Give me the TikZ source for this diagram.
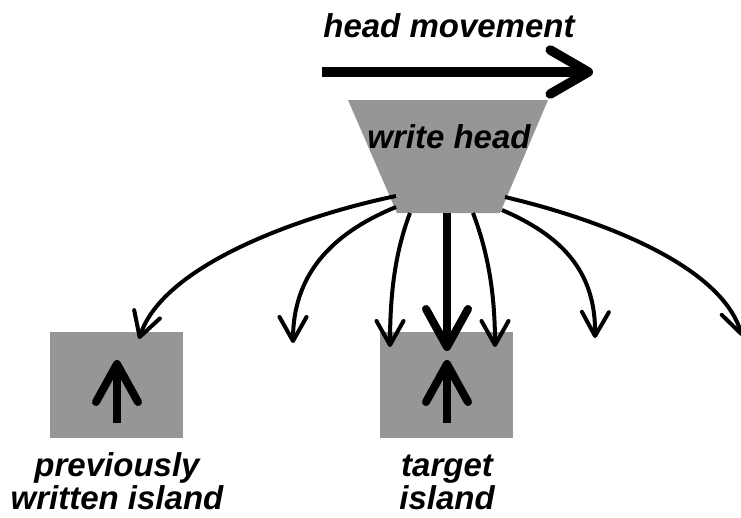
\documentclass[tikz,border=0pt]{standalone}
\usepackage{fontspec}
\setmainfont{Liberation Sans}
\usetikzlibrary{arrows.meta}
\definecolor{blockgray}{RGB}{150,150,150}
\tikzset{
  lbl/.style={font=\fontsize{33}{33}\selectfont\bfseries\itshape, inner sep=0pt, align=center},
  island/.style={fill=blockgray, minimum width=133pt, minimum height=106pt, inner sep=0pt},
  thin/.style={line width=4pt, -{Straight Barb[length=24pt,width=27pt,round]}},
  thick/.style={line width=8pt, -{Straight Barb[length=38pt,width=42pt,round]}},
  bigarrow/.style={line width=9.5pt, -{Straight Barb[length=38pt,width=44pt,round]}}
}
\begin{document}
\begin{tikzpicture}[x=1pt,y=-1pt]
\useasboundingbox (0,0) rectangle (741,517);
\clip (0,0) rectangle (741,517);
% islands
\node[island] (prev) at (116.5,385) {};
\node[island] (target) at (446.5,385) {};
% write head
\fill[blockgray] (348,100) -- (548,100) -- (500,213) -- (397,213) -- cycle;
\node[lbl, anchor=base] (wh) at (449,148) {write head};
% labels
\node[lbl, anchor=base] (hm) at (449,37) {head movement};
\node[lbl, anchor=base] (pl) at (117,509) {previously\\written island};
\node[lbl, anchor=base] (tl) at (447,509) {target\\island};
% head movement arrow
\coordinate (hmA) at (322,72);
\coordinate (hmB) at (593,72);
\draw[bigarrow] (hmA) -- (hmB);
% start coordinates at head
\coordinate (s1) at (396,196);
\coordinate (s2) at (396,207);
\coordinate (s3) at (410,213);
\coordinate (s4) at (447,213);
\coordinate (s5) at (473,213);
\coordinate (s6) at (502,210);
\coordinate (s7) at (505,197);
% end coordinates
\coordinate (e1) at (139,339);
\coordinate (e2) at (293,343);
\coordinate (e3) at (390,347);
\coordinate (e4) at (447,351);
\coordinate (e5) at (495,347);
\coordinate (e6) at (595,338);
\coordinate (e7) at (742,336);
\draw[thin] (s1) .. controls (300,216) and (163,265) .. (e1);
\draw[thin] (s2) .. controls (340,230) and (293,268) .. (e2);
\draw[thin] (s3) .. controls (396,250) and (390,290) .. (e3);
\draw[thick] (s4) -- (e4);
\draw[thin] (s5) .. controls (487,250) and (495,290) .. (e5);
\draw[thin] (s6) .. controls (560,235) and (596,270) .. (e6);
\draw[thin] (s7) .. controls (610,222) and (722,268) .. (e7);
% up arrows inside islands
\coordinate (p0) at (117,423);
\coordinate (p1) at (117,360);
\coordinate (t0) at (447,423);
\coordinate (t1) at (447,360);
\draw[thick] (p0) -- (p1);
\draw[thick] (t0) -- (t1);
\end{tikzpicture}
\end{document}
